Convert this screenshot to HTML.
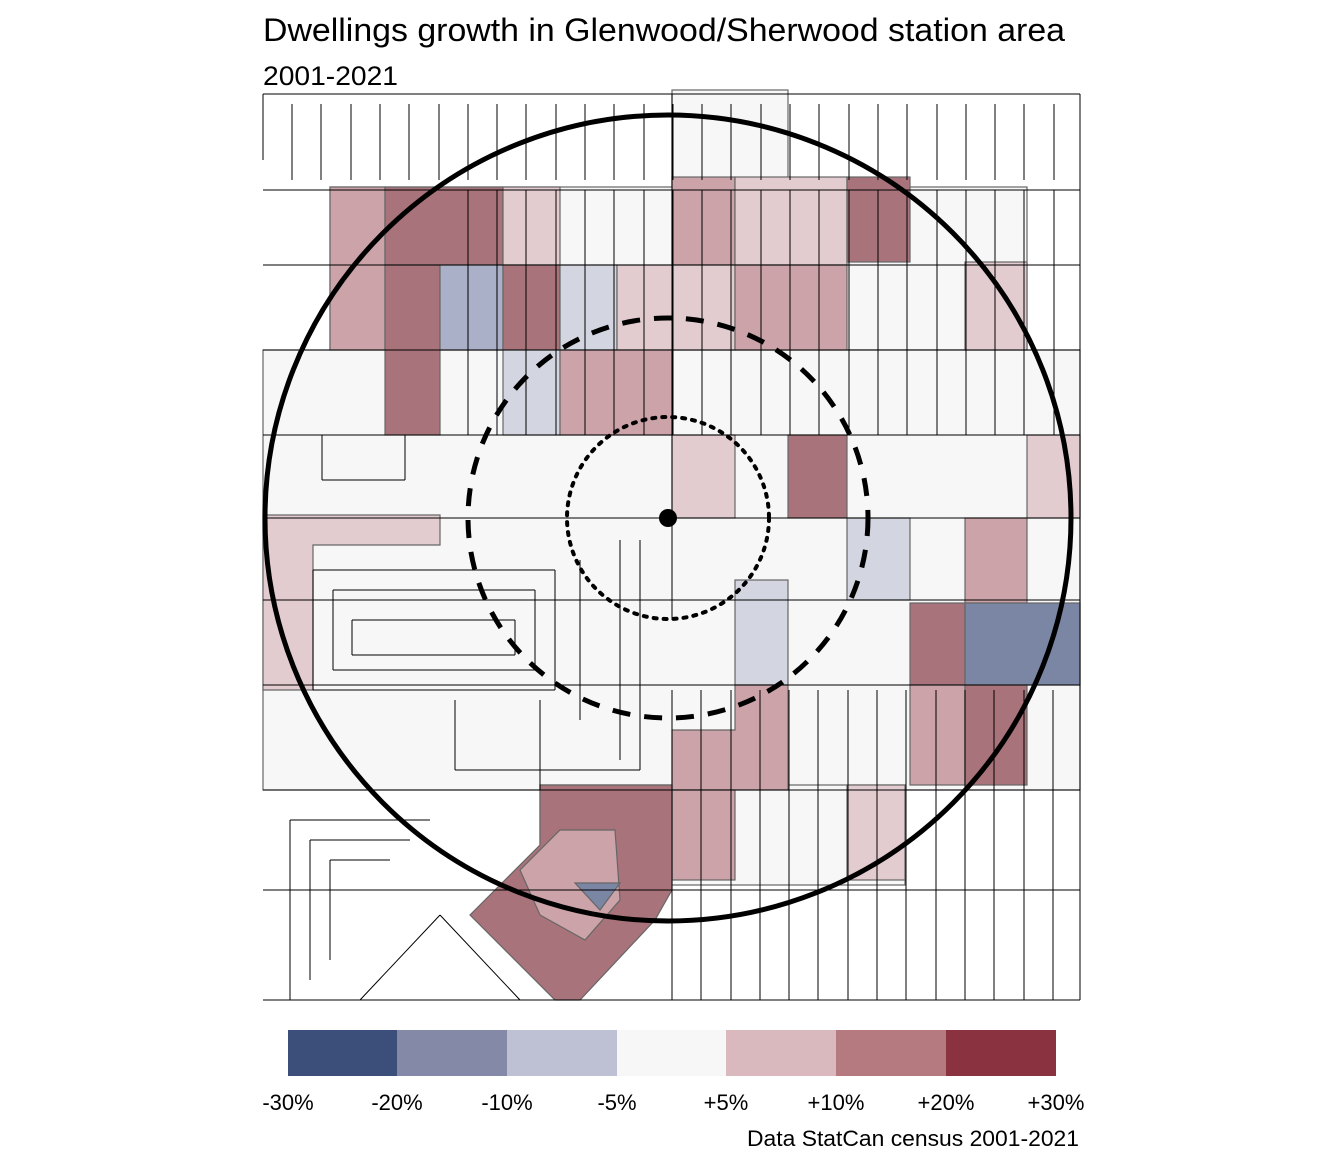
<!DOCTYPE html>
<html><head><meta charset="utf-8"><style>
body{margin:0;background:#fff;width:1344px;height:1152px;overflow:hidden;font-family:"Liberation Sans",sans-serif}
</style></head><body>
<svg id="s" width="1344" height="1152" xmlns="http://www.w3.org/2000/svg" font-family="Liberation Sans, sans-serif">
<text x="263" y="41" font-size="32" textLength="802" lengthAdjust="spacingAndGlyphs">Dwellings growth in Glenwood/Sherwood station area</text>
<text x="263" y="85" font-size="27" textLength="135" lengthAdjust="spacingAndGlyphs">2001-2021</text>
<g stroke="#666" stroke-width="1.2">
<rect x="672" y="90" width="116" height="97" fill="#f7f7f7"/>
<rect x="330" y="187" width="697" height="163" fill="#f7f7f7"/>
<rect x="263" y="350" width="817" height="440" fill="#f7f7f7"/>
<rect x="540" y="785" width="365" height="100" fill="#f7f7f7"/>
<rect x="330" y="187" width="55" height="163" fill="#cba3a8"/>
<rect x="385" y="187" width="118" height="78" fill="#a8737a"/>
<rect x="503" y="187" width="57" height="78" fill="#e3cccf"/>
<rect x="672" y="177" width="63" height="88" fill="#cba3a8"/>
<rect x="735" y="177" width="112" height="88" fill="#e3cccf"/>
<rect x="847" y="177" width="63" height="85" fill="#a8737a"/>
<rect x="385" y="265" width="55" height="170" fill="#a8737a"/>
<rect x="440" y="265" width="63" height="85" fill="#aab0c7"/>
<rect x="503" y="265" width="57" height="85" fill="#a8737a"/>
<rect x="560" y="265" width="57" height="85" fill="#d3d6e0"/>
<rect x="617" y="265" width="118" height="85" fill="#e3cccf"/>
<rect x="735" y="265" width="112" height="85" fill="#cba3a8"/>
<rect x="965" y="262" width="62" height="88" fill="#e3cccf"/>
<rect x="503" y="350" width="57" height="85" fill="#d3d6e0"/>
<rect x="560" y="350" width="112" height="85" fill="#cba3a8"/>
<rect x="672" y="435" width="63" height="83" fill="#e3cccf"/>
<rect x="788" y="435" width="59" height="83" fill="#a8737a"/>
<rect x="1027" y="435" width="53" height="83" fill="#e3cccf"/>
<path d="M263 515 H440 V545 H313 V690 H263Z" fill="#e3cccf"/>
<rect x="847" y="518" width="63" height="82" fill="#d3d6e0"/>
<rect x="965" y="518" width="62" height="85" fill="#cba3a8"/>
<rect x="735" y="580" width="53" height="105" fill="#d3d6e0"/>
<rect x="910" y="603" width="55" height="82" fill="#a8737a"/>
<rect x="965" y="603" width="115" height="82" fill="#7a86a3"/>
<path d="M672 730 H735 V685 H788 V790 H672Z" fill="#cba3a8"/>
<rect x="910" y="685" width="55" height="100" fill="#cba3a8"/>
<rect x="965" y="685" width="62" height="100" fill="#a8737a"/>
<rect x="672" y="790" width="63" height="90" fill="#cba3a8"/>
<rect x="847" y="785" width="58" height="95" fill="#e3cccf"/>
<path d="M540 785 H672 V890 L655 920 L580 1000 L555 1000 L470 915 L540 845Z" fill="#a8737a"/>
<path d="M520 870 L560 830 L615 830 L620 900 L585 940 L540 915Z" fill="#cba3a8"/>
<path d="M575 883 L620 883 L600 910Z" fill="#7a86a3"/>
</g>
<g id="grid" stroke="#000" stroke-width="1" fill="none"></g>
<g fill="none" stroke="#000">
<circle cx="668" cy="518" r="403" stroke-width="5"/>
<circle cx="668" cy="518" r="200" stroke-width="5" stroke-dasharray="18 14"/>
<circle cx="668" cy="518" r="101" stroke-width="4" stroke-dasharray="3 7" stroke-linecap="round"/>
</g>
<circle cx="668" cy="518" r="9" fill="#000"/>
<g>
<rect x="288" y="1030" width="110" height="46" fill="#3b4f7a"/>
<rect x="397" y="1030" width="110" height="46" fill="#8489a8"/>
<rect x="507" y="1030" width="110" height="46" fill="#bec1d3"/>
<rect x="617" y="1030" width="110" height="46" fill="#f7f7f7"/>
<rect x="726" y="1030" width="110" height="46" fill="#d9b9bd"/>
<rect x="836" y="1030" width="110" height="46" fill="#b47a7f"/>
<rect x="946" y="1030" width="110" height="46" fill="#8a323f"/>
</g>
<g font-size="22" text-anchor="middle">
<text x="288" y="1110">-30%</text><text x="397" y="1110">-20%</text><text x="507" y="1110">-10%</text><text x="617" y="1110">-5%</text>
<text x="726" y="1110">+5%</text><text x="836" y="1110">+10%</text><text x="946" y="1110">+20%</text><text x="1056" y="1110">+30%</text>
</g>
<text x="1079" y="1146" font-size="22" text-anchor="end" textLength="332" lengthAdjust="spacingAndGlyphs">Data StatCan census 2001-2021</text>
</svg>
<script>
var d='';
function L(x1,y1,x2,y2){d+='M'+x1+' '+y1+'L'+x2+' '+y2;}
[94,190,265,350,435,518,600,685,790,890,1000].forEach(function(y){L(263,y,1080,y);});
for(var x=292;x<1080;x+=29.3){var xi=Math.round(x);L(xi,104,xi,180);}
for(var x=292;x<1080;x+=29.3){var xi=Math.round(x);if(xi>440&&xi<1080){L(xi,190,xi,435);}}
for(var x=672;x<1080;x+=29.3){var xi=Math.round(x);L(xi,690,xi,1000);}
L(263,94,263,160);L(1080,94,1080,1000);L(672,94,672,620);
L(322,435,322,480);L(405,435,405,480);L(322,480,405,480);
L(313,570,555,570);L(313,690,555,690);L(313,570,313,690);L(555,570,555,690);
L(333,590,535,590);L(333,670,535,670);L(333,590,333,670);L(535,590,535,670);
L(352,620,515,620);L(352,655,515,655);L(352,620,352,655);L(515,620,515,655);
L(290,820,430,820);L(290,820,290,1000);L(310,840,310,980);L(310,840,410,840);
L(330,860,330,960);L(330,860,390,860);L(440,915,520,1000);L(440,915,360,1000);
L(455,700,455,770);L(455,770,640,770);L(640,540,640,770);L(540,700,540,790);
L(580,560,580,720);L(620,540,620,760);
document.getElementById('grid').innerHTML='<path d="'+d+'"/>';
</script>
</body></html>
